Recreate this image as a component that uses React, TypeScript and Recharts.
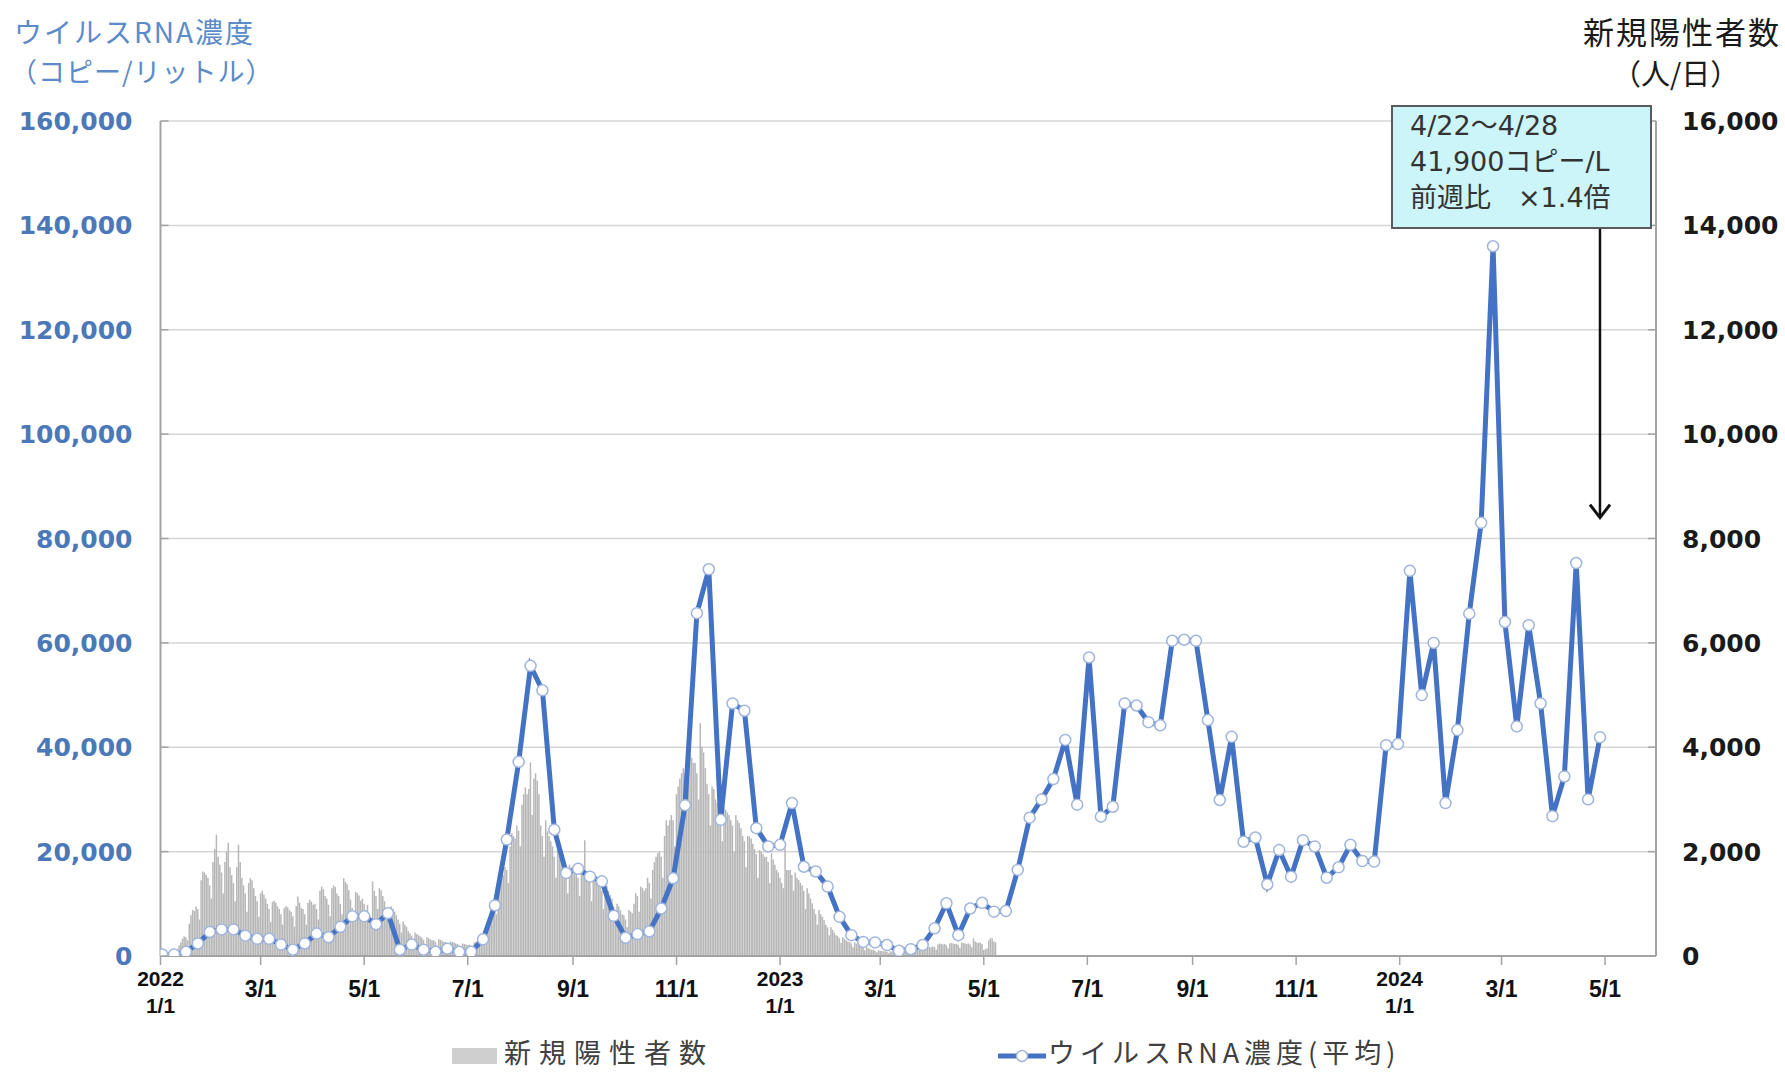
import React from 'react';
import { ComposedChart, Bar, Line, XAxis, YAxis, CartesianGrid, ReferenceLine } from 'recharts';

// ---------- data ----------
// x axis: day offset from 2022-01-01
const xTickDays = [0, 59, 120, 181, 243, 304, 365, 424, 485, 546, 608, 669, 730, 790, 851];
const xTickLabels: string[][] = [
  ['2022', '1/1'], ['3/1'], ['5/1'], ['7/1'], ['9/1'], ['11/1'],
  ['2023', '1/1'], ['3/1'], ['5/1'], ['7/1'], ['9/1'], ['11/1'],
  ['2024', '1/1'], ['3/1'], ['5/1'],
];
const leftTicks = [0, 20000, 40000, 60000, 80000, 100000, 120000, 140000, 160000];
const rightTicks = [0, 2000, 4000, 6000, 8000, 10000, 12000, 14000, 16000];

// weekly virus RNA concentration (copies / L), first week centred on day 1
const RNA_FIRST_DAY = 1;
const RNA_STEP_DAYS = 7;
const rnaWeekly = [
  300, 300, 800, 2400, 4600, 5100, 5100, 3900, 3300, 3300,
  2200, 1200, 2400, 4300, 3600, 5600, 7600, 7600, 6100, 8200,
  1200, 2200, 1200, 800, 1400, 800, 800, 3200, 9700, 22300,
  37200, 55600, 50900, 24200, 15900, 16700, 15200, 14300, 7700, 3500,
  4200, 4700, 9100, 14900, 28900, 65700, 74100, 26100, 48400, 47000,
  24500, 21000, 21300, 29300, 17100, 16200, 13300, 7500, 4000, 2700,
  2600, 2100, 1000, 1300, 2100, 5300, 10100, 4000, 9100, 10200,
  8500, 8600, 16500, 26500, 30000, 33900, 41400, 29000, 57200, 26700,
  28600, 48400, 48000, 44800, 44200, 60400, 60600, 60400, 45200, 29900,
  42000, 21900, 22700, 13700, 20300, 15200, 22200, 21000, 15000, 17000,
  21300, 18200, 18100, 40400, 40600, 73800, 50000, 60000, 29300, 43300,
  65600, 83000, 136000, 64000, 44000, 63400, 48400, 26800, 34400, 75300,
  30000, 41900,
];

// daily new positives (people / day), from 2022-01-01 (day 0)
const dailyCases = [
  8, 6, 5, 12, 18, 25, 35,
  60, 70, 60, 130, 200, 260, 330,
  380, 360, 300, 620, 780, 880, 860,
  950, 900, 700, 1450, 1620, 1600, 1550,
  1500, 1350, 1100, 1800, 2050, 2330, 1900,
  1750, 1600, 1200, 1800, 2000, 2170, 1700,
  1550, 1400, 1050, 1700, 2130, 1800, 1500,
  1350, 1200, 850, 1400, 1490, 1450, 1300,
  1150, 1050, 750, 1200, 1250, 1180, 1100,
  1000, 900, 650, 1040, 1060, 1020, 950,
  900, 800, 600, 920, 960, 930, 880,
  850, 760, 560, 960, 1140, 1020, 920,
  900, 800, 600, 1020, 1080, 1040, 980,
  1000, 900, 700, 1250, 1330, 1280, 1150,
  1100, 980, 760, 1300, 1350, 1320, 1200,
  1150, 1000, 800, 1490, 1420, 1380, 1260,
  1080, 920, 700, 1230, 1210, 1160, 1060,
  1100, 1000, 880, 980, 760, 700, 1430,
  1250, 1150, 900, 1300, 1260, 1150, 1050,
  920, 830, 620, 950, 900, 850, 780,
  700, 620, 450, 660, 600, 560, 480,
  430, 390, 280, 450, 420, 400, 380,
  350, 310, 220, 360, 340, 320, 300,
  300, 270, 200, 320, 310, 290, 270,
  270, 240, 180, 280, 270, 260, 240,
  230, 200, 140, 240, 230, 220, 210,
  220, 190, 150, 260, 280, 290, 310,
  380, 350, 300, 600, 700, 800, 850,
  950, 900, 800, 1300, 1450, 1500, 1550,
  1700, 1650, 1400, 2100, 2350, 2300, 2250,
  2500, 2400, 2100, 2900, 3100, 3230, 3100,
  3200, 3710, 2700, 3400, 3500, 3360, 3100,
  2500, 2300, 1900, 2600, 2390, 2300, 2200,
  2100, 1900, 1500, 2200, 2150, 2000, 1850,
  1750, 1600, 1200, 1750, 1700, 1650, 1600,
  1650, 1500, 1150, 1700, 1650, 2220, 1600,
  1500, 1400, 1050, 1550, 1500, 1450, 1400,
  1350, 1250, 900, 1430, 1350, 1250, 1170,
  1100, 950, 700, 1000, 950, 880, 800,
  780, 700, 550, 880, 850, 820, 1000,
  1200, 1150, 850, 1330, 1300, 1250, 1300,
  1500, 1400, 1100, 1650, 1800, 1900, 1970,
  2000, 1900, 1500, 2300, 2600, 2500, 2600,
  2700, 2600, 2100, 3100, 3250, 3400, 3500,
  3600, 3500, 2800, 3700, 3880, 3800, 3700,
  3700, 3500, 3000, 4460, 4010, 3900, 3600,
  3300, 3100, 2500, 3250, 3200, 3000, 2930,
  2900, 2700, 2200, 2850, 2800, 2750, 2700,
  2600, 2500, 2000, 2700, 2600, 2550, 2450,
  2300, 2200, 1700, 2300, 2290, 2250, 2150,
  2050, 1950, 1500, 2030, 2000, 1950, 1900,
  1900, 1800, 1400, 1970, 1850, 1750, 1650,
  1600, 1500, 1400, 1300, 2060, 1650, 1650,
  1650, 1550, 1250, 1600, 1500, 1460, 1400,
  1350, 1250, 900, 1300, 1200, 1100, 1010,
  900, 800, 600, 880, 800, 750, 690,
  600, 550, 400, 550, 500, 450, 400,
  380, 340, 250, 360, 330, 300, 280,
  270, 240, 170, 260, 240, 220, 200,
  180, 160, 110, 170, 150, 140, 120,
  120, 100, 70, 110, 100, 95, 90,
  90, 80, 55, 90, 85, 80, 80,
  85, 75, 55, 90, 95, 100, 105,
  110, 100, 70, 130, 140, 150, 145,
  150, 140, 100, 170, 180, 175, 170,
  180, 170, 120, 220, 240, 230, 220,
  230, 210, 150, 240, 250, 240, 230,
  230, 210, 160, 260, 250, 240, 230,
  240, 220, 170, 340, 280, 260, 250,
  260, 230, 120, 130, 150, 300, 340,
  340, 280, 260,
];

// annotation
const annotationLines = ['4/22～4/28', '41,900コピー/L', '前週比　×1.4倍'];
const arrowDay = 848;
const arrowFrom = 139500;
const arrowTo = 84000;

// ---------- build table ----------
type Row = { day: number; cases?: number; rna?: number };
const rowMap = new Map<number, Row>();
dailyCases.forEach((v, i) => rowMap.set(i, { day: i, cases: v }));
rnaWeekly.forEach((v, i) => {
  const d = RNA_FIRST_DAY + RNA_STEP_DAYS * i;
  const r = rowMap.get(d) || { day: d };
  r.rna = v;
  rowMap.set(d, r);
});
const data: Row[] = Array.from(rowMap.values()).sort((a, b) => a.day - b.day);

// ---------- styles ----------
const W = 1785;
const H = 1073;
const JP = '"Noto Sans CJK JP", "Noto Sans", sans-serif';
const NUM = '"DejaVu Sans", Verdana, sans-serif';
const AX = '"Liberation Sans", Arial, sans-serif';
const BLUE_TXT = '#4a78b8';
const AXIS_GRAY = '#a3a3a3';
const fmt = (v: number) => v.toLocaleString('en-US');

const LEFT_MARGIN = 28;
const RIGHT_MARGIN = 26;

const LeftTick = (p: any) => {
  const { x, y, payload } = p;
  const ax = x + LEFT_MARGIN;
  return (
    <g>
      <line x1={ax} x2={ax + 8} y1={y} y2={y} stroke={AXIS_GRAY} strokeWidth={1.5} />
      <text x={x} y={y} dy="0.36em" textAnchor="end" fill={BLUE_TXT} fontFamily={NUM} fontWeight="bold" fontSize={25}>
        {fmt(payload.value)}
      </text>
    </g>
  );
};

const RightTick = (p: any) => {
  const { x, y, payload } = p;
  const ax = x - RIGHT_MARGIN;
  return (
    <g>
      <line x1={ax - 8} x2={ax} y1={y} y2={y} stroke={AXIS_GRAY} strokeWidth={1.5} />
      <text x={x} y={y} dy="0.36em" textAnchor="start" fill="#1a1a1a" fontFamily={NUM} fontWeight="bold" fontSize={25}>
        {fmt(payload.value)}
      </text>
    </g>
  );
};

const XTick = (p: any) => {
  const { x, y, payload } = p;
  const idx = xTickDays.indexOf(payload.value);
  const lab = xTickLabels[idx] || [''];
  if (lab.length === 2) {
    return (
      <g>
        <text x={x} y={y + 13} dy="0.36em" textAnchor="middle" fill="#111" fontFamily={AX} fontWeight="bold" fontSize={21}>{lab[0]}</text>
        <text x={x} y={y + 40} dy="0.36em" textAnchor="middle" fill="#111" fontFamily={AX} fontWeight="bold" fontSize={21}>{lab[1]}</text>
      </g>
    );
  }
  return (
    <text x={x} y={y + 24} dy="0.36em" textAnchor="middle" fill="#111" fontFamily={AX} fontWeight="bold" fontSize={23}>{lab[0]}</text>
  );
};

const ArrowShape = (p: any) => {
  const { x1, y1, x2, y2 } = p;
  if ([x1, y1, x2, y2].some((v) => typeof v !== 'number' || isNaN(v))) return <g />;
  return (
    <g>
      <line x1={x1} y1={y1} x2={x2} y2={y2} stroke="#111" strokeWidth={2.5} />
      <polyline points={`${x2 - 10},${y2 - 13} ${x2},${y2} ${x2 + 10},${y2 - 13}`} fill="none" stroke="#111" strokeWidth={3} />
    </g>
  );
};

export default function App() {
  return (
    <div style={{ position: 'absolute', left: 0, top: 0, width: W, height: H, background: '#fff', overflow: 'hidden' }}>
      <ComposedChart
        width={W}
        height={H}
        data={data}
        margin={{ top: 121, right: 29, bottom: 57, left: 10.5 }}
      >
        <CartesianGrid yAxisId="left" vertical={false} stroke="#d6d6d6" strokeWidth={1.5} />
        <XAxis
          dataKey="day"
          type="number"
          domain={[0, 881]}
          ticks={xTickDays}
          interval={0}
          height={60}
          tickSize={9}
          tickMargin={0}
          tick={<XTick />}
          axisLine={{ stroke: AXIS_GRAY, strokeWidth: 2 }}
          tickLine={{ stroke: AXIS_GRAY, strokeWidth: 1.5 }}
          allowDataOverflow
        />
        <YAxis
          yAxisId="left"
          orientation="left"
          width={150}
          domain={[0, 160000]}
          ticks={leftTicks}
          interval={0}
          tickSize={0}
          tickMargin={LEFT_MARGIN}
          tickLine={false}
          tick={<LeftTick />}
          axisLine={{ stroke: AXIS_GRAY, strokeWidth: 2 }}
          allowDataOverflow
        />
        <YAxis
          yAxisId="right"
          orientation="right"
          width={100}
          domain={[0, 16000]}
          ticks={rightTicks}
          interval={0}
          tickSize={0}
          tickMargin={RIGHT_MARGIN}
          tickLine={false}
          tick={<RightTick />}
          axisLine={{ stroke: AXIS_GRAY, strokeWidth: 2 }}
          allowDataOverflow
        />
        <Bar yAxisId="right" dataKey="cases" fill="#b7b7b7" barSize={1.5} isAnimationActive={false} />
        <Line
          yAxisId="left"
          dataKey="rna"
          type="linear"
          stroke="#4472c4"
          strokeWidth={5}
          connectNulls
          dot={{ r: 5.5, fill: '#ffffff', stroke: '#9fb5dd', strokeWidth: 1.5 }}
          activeDot={false}
          isAnimationActive={false}
        />
        <ReferenceLine
          yAxisId="left"
          segment={[{ x: arrowDay, y: arrowFrom }, { x: arrowDay, y: arrowTo }]}
          ifOverflow="visible"
          shape={ArrowShape}
        />
      </ComposedChart>

      {/* left axis title */}
      <div style={{ position: 'absolute', left: 14, top: 12, fontFamily: JP, fontSize: 28, lineHeight: '38px', color: '#5b8bc9', letterSpacing: 2, whiteSpace: 'nowrap' }}>
        ウイルスRNA濃度
      </div>
      <div style={{ position: 'absolute', left: 10, top: 52, fontFamily: JP, fontSize: 27, lineHeight: '38px', color: '#5b8bc9', letterSpacing: 1, whiteSpace: 'nowrap' }}>
        （コピー/リットル）
      </div>

      {/* right axis title */}
      <div style={{ position: 'absolute', right: 4, top: 12, fontFamily: JP, fontSize: 31, lineHeight: '38px', color: '#1a1a1a', letterSpacing: 2, whiteSpace: 'nowrap' }}>
        新規陽性者数
      </div>
      <div style={{ position: 'absolute', left: 1612, top: 53, fontFamily: JP, fontSize: 29, lineHeight: '38px', color: '#1a1a1a', whiteSpace: 'nowrap' }}>
        （人/日）
      </div>

      {/* annotation box */}
      <div
        style={{
          position: 'absolute', left: 1391, top: 105, width: 257, height: 118,
          background: '#ccf5f9', border: '2px solid #5a5a5a', boxSizing: 'content-box',
          fontFamily: '"DejaVu Sans", "Noto Sans CJK JP", sans-serif', fontSize: 27, color: '#333',
          paddingTop: 2,
        }}
      >
        {annotationLines.map((t, i) => (
          <div key={i} style={{ position: 'absolute', left: 17, top: 1 + i * 36, lineHeight: '36px', whiteSpace: 'pre' }}>{t}</div>
        ))}
      </div>

      {/* legend */}
      <div style={{ position: 'absolute', left: 452, top: 1048, width: 45, height: 16, background: '#cfcfcf' }} />
      <div style={{ position: 'absolute', left: 504, top: 1037, fontFamily: JP, fontSize: 27, lineHeight: '30px', color: '#404040', letterSpacing: 8, whiteSpace: 'nowrap' }}>
        新規陽性者数
      </div>
      <svg style={{ position: 'absolute', left: 996, top: 1045 }} width={52} height={22}>
        <line x1={2} y1={11} x2={50} y2={11} stroke="#4472c4" strokeWidth={5} />
        <circle cx={26} cy={11} r={5.5} fill="#fff" stroke="#9fb5dd" strokeWidth={1.5} />
      </svg>
      <div style={{ position: 'absolute', left: 1048, top: 1037, fontFamily: JP, fontSize: 27, lineHeight: '30px', color: '#404040', letterSpacing: 5, whiteSpace: 'nowrap' }}>
        ウイルスRNA濃度(平均)
      </div>
    </div>
  );
}
